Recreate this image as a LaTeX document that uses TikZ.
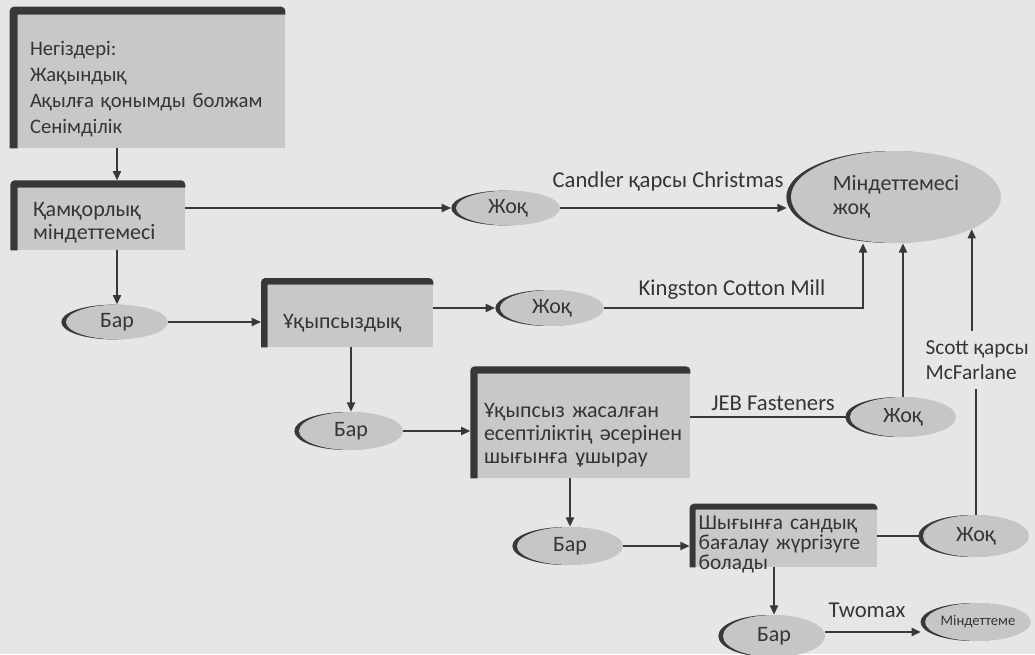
\documentclass[tikz,border=0pt]{standalone}
\usepackage{fontspec}
\setmainfont{Carlito}
\usetikzlibrary{arrows.meta,shapes.geometric,shadows}

\definecolor{paper}{HTML}{E6E6E4}
\definecolor{boxfill}{HTML}{C8C8C7}
\definecolor{ovalfill}{HTML}{C6C6C5}
\definecolor{ink}{HTML}{383838}
\definecolor{txt}{HTML}{353535}

% thick dark frame along the top and left edges of a box node
\newcommand{\darkedge}[2]{%
  \fill[ink, rounded corners=3pt]
    ([xshift=-#2]#1.south west) -- ([xshift=-#2,yshift=#2]#1.north west)
    -- ([yshift=#2]#1.north east) [sharp corners] -- (#1.north east)
    -- (#1.north west) -- (#1.south west) -- cycle;}

\begin{document}
\begin{tikzpicture}[x=0.75pt,y=-0.75pt,
  text=txt,
  gbox/.style={rectangle, fill=boxfill, inner ysep=0pt, align=left,
    font=\fontsize{16.5}{17.25}\selectfont},
  oval/.style={ellipse, fill=ovalfill, inner sep=0pt,
    font=\fontsize{16.5}{18}\selectfont,
    drop shadow={shadow xshift=-3.5pt, shadow yshift=0pt, fill=ink, opacity=1}},
  conn/.style={draw=ink, line width=1.5pt, -{Triangle[length=7pt,width=6pt]}},
  link/.style={draw=ink, line width=1.5pt},
  lbl/.style={font=\fontsize{17}{19}\selectfont, inner sep=1pt}]

% page
\fill[paper] (0,0) rectangle (1035,654);
\useasboundingbox (0,0) rectangle (1035,654);

% boxes (text height = top edge to first baseline, text depth = the rest)
\node[gbox, minimum width=200.25pt, inner xsep=9pt, text width=182.25pt,
  text height=30pt, text depth=69.75pt, font=\fontsize{15.5}{19.5}\selectfont]
  (base) at (151.5,81.5) {Негіздері:\\Жақындық\\Ақылға қонымды болжам\\Сенімділік};
\node[gbox, minimum width=125.25pt, inner xsep=11.25pt, text width=102.75pt,
  text height=21pt, text depth=25.5pt] (duty) at (101.5,219) {Қамқорлық\\міндеттемесі};
\node[gbox, minimum width=123.75pt, inner xsep=11.25pt, text width=101.25pt,
  text height=32.25pt, text depth=14.25pt] (careless) at (350.5,316) {Ұқыпсыздық};
\node[gbox, minimum width=159pt, inner xsep=4.5pt, text width=150pt,
  text height=32.25pt, text depth=45.75pt] (loss) at (584,426)
  {Ұқыпсыз жасалған\\есептіліктің әсерінен\\шығынға ұшырау};
\node[gbox, minimum width=135.75pt, inner xsep=2pt, text width=131.75pt,
  text height=14.25pt, text depth=28.5pt, font=\fontsize{16}{15}\selectfont]
  (quant) at (786.5,538.5) {Шығынға сандық\\бағалау жүргізуге\\болады};

\darkedge{base}{6pt}
\darkedge{duty}{5.5pt}
\darkedge{careless}{5pt}
\darkedge{loss}{5.5pt}
\darkedge{quant}{4.5pt}

% ovals
\node[oval, minimum width=78pt, minimum height=26pt] (no1) at (508,208) {Жоқ};
\node[oval, minimum width=157.5pt, minimum height=69pt, align=left]
  (free) at (896,197) {Міндеттемесі\\жоқ};
\node[oval, minimum width=76.5pt, minimum height=26pt] (yes1) at (117,322) {Бар};
\node[oval, minimum width=78pt, minimum height=27pt] (no2) at (552,308) {Жоқ};
\node[oval, minimum width=78pt, minimum height=28.5pt] (yes2) at (351,431) {Бар};
\node[oval, minimum width=79.5pt, minimum height=30pt] (no3) at (903,417) {Жоқ};
\node[oval, minimum width=79.5pt, minimum height=28.5pt] (yes3) at (570,546) {Бар};
\node[oval, minimum width=79.5pt, minimum height=31.5pt] (no4) at (976,536) {Жоқ};
\node[oval, minimum width=76.5pt, minimum height=31.5pt] (yes4) at (774,636) {Бар};
\node[oval, minimum width=78pt, minimum height=28.5pt, font=\fontsize{11}{12}\selectfont]
  (liable) at (978,622) {Міндеттеме};

% labels on the connectors
\node[lbl] (candler) at (668,181) {Candler қарсы Christmas};
\node[lbl] (kingston) at (732,290) {Kingston Cotton Mill};
\node[lbl] (jeb) at (773,403) {JEB Fasteners};
\node[lbl, anchor=west, align=left, inner ysep=7pt, font=\fontsize{16}{19}\selectfont]
  (scott) at (924,360) {Scott қарсы\\McFarlane};
\node[lbl] (twomax) at (867,610) {Twomax};

\coordinate (turn) at (863,0);
\coordinate (lowline) at (0,632);

% main chain
\draw[conn, shorten >=5.5pt] (base.south -| yes1.north) -- (duty.north -| yes1.north);
\draw[conn] (duty.south -| yes1.north) -- (yes1.north);
\draw[conn, shorten >=5pt] (yes1.east) -- (careless.west |- yes1.east);
\draw[conn] (careless.south -| yes2.north) -- (yes2.north);
\draw[conn, shorten >=5.5pt] (yes2.east) -- (loss.west |- yes2.east);
\draw[conn] (loss.south -| yes3.north) -- (yes3.north);
\draw[conn, shorten >=4.5pt] (yes3.east) -- (quant.west |- yes3.east);
\draw[conn] (quant.south -| yes4.north) -- (yes4.north);
\draw[conn, shorten >=3pt] (yes4.east |- lowline) -- (liable.west |- lowline);

% "no" branches
\draw[conn, shorten >=3.5pt] (no1.west -| duty.east) -- (no1.west);
\draw[conn, shorten >=3.5pt] (no2.west -| careless.east) -- (no2.west);
\draw[link] (no3.west -| loss.east) -- (no3.west);
\draw[link] (no4.west -| quant.east) -- (no4.west);

% into "Міндеттемесі жоқ"
\draw[conn, shorten >=3pt] (no1.east) -- (no1.east -| free.west);
\draw[conn] (no2.east) -| (free.south -| turn);
\draw[conn] (no3.north) -- (free.south -| no3.north);
\draw[link] (no4.north) -- (no4.north |- scott.south);
\draw[conn] (scott.north -| free.-23) -- (free.-23);

\end{tikzpicture}
\end{document}
